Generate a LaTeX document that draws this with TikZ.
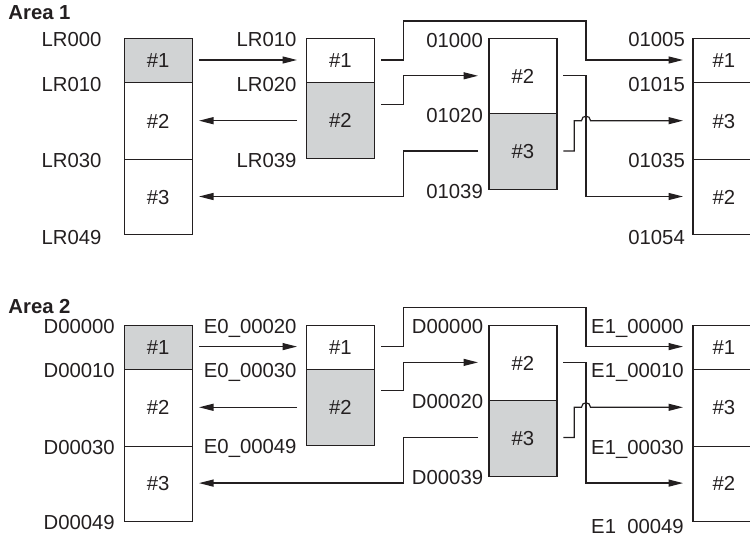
\documentclass[tikz,border=0pt]{standalone}
\usepackage{fontspec}
\setmainfont{Liberation Sans}
\usetikzlibrary{arrows.meta}
\definecolor{ink}{HTML}{231F20}
\definecolor{shade}{HTML}{D1D3D4}
\newcommand\wires[1]{%
  \coordinate (#1A1o) at (199,60);
  \coordinate (#1B1i) at (297,60);
  \coordinate (#1B2o) at (297,120.7);
  \coordinate (#1A2i) at (199,120.7);
  \coordinate (#1A3i) at (199,196.5);
  \coordinate (#1C2w) at (478,151);
  \coordinate (#1B1e) at (381,60);
  \coordinate (#1D1i) at (683,60);
  \coordinate (#1B2e) at (381,104.3);
  \coordinate (#1C1i) at (478,75.8);
  \coordinate (#1C1e) at (563.3,75.8);
  \coordinate (#1D3i) at (683,196.5);
  \coordinate (#1C2e) at (563.3,151);
  \coordinate (#1D2i) at (683,120.7);
  \draw[arr] (#1A1o) -- (#1B1i);
  \draw[arr] (#1B2o) -- (#1A2i);
  \draw[arr] (#1C2w) -- (403.3,151) -- (403.3,196.5) -- (#1A3i);
  \draw[arr] (#1B1e) -- (403.3,60) -- (403.3,21) -- (586,21) -- (586,60) -- (#1D1i);
  \draw[arr] (#1B2e) -- (403.3,104.3) -- (403.3,75.8) -- (#1C1i);
  \draw[arr] (#1C1e) -- (586,75.8) -- (586,196.5) -- (#1D3i);
  \draw[arr] (#1C2e) -- (574.3,151) -- (574.3,120.7) -- (581.5,120.7)
     .. controls (581.5,114.7) and (590.5,114.7) .. (590.5,120.7) -- (#1D2i);
}
\begin{document}
\begin{tikzpicture}[x=1pt,y=-1pt,
  every node/.style={font=\fontsize{20.3}{24}\selectfont, text=ink},
  seg/.style={draw=ink, line width=1.2pt, minimum width=68pt, inner sep=0pt, anchor=north west},
  segD/.style={seg, minimum width=62pt},
  lab/.style={anchor=base east, inner sep=0pt},
  ttl/.style={anchor=base west, inner sep=0pt, font=\fontsize{20.3}{24}\selectfont\bfseries},
  arr/.style={draw=ink, line width=1.2pt, -{Triangle[length=14.5pt,width=7pt]}}]
\useasboundingbox (0,0) rectangle (750,534);
\clip (0,0) rectangle (750,534);

% ---------------- Area 1 ----------------
\node[ttl] (t1) at (8.3,20) {Area 1};
\node[seg, fill=shade, minimum height=44.3pt] (A1) at (123.5,38) {\#1};
\node[seg, minimum height=76.7pt] (A2) at (123.5,82.3) {\#2};
\node[seg, minimum height=75.3pt] (A3) at (123.5,159) {\#3};
\node[seg, minimum height=44.3pt] (B1) at (305.7,38) {\#1};
\node[seg, fill=shade, minimum height=76pt] (B2) at (305.7,82.3) {\#2};
\node[seg, minimum height=75pt] (C1) at (488.3,38.3) {\#2};
\node[seg, fill=shade, minimum height=76pt] (C2) at (488.3,113.3) {\#3};
\node[segD, minimum height=44.3pt] (D1) at (692.3,38) {\#1};
\node[segD, minimum height=76.7pt] (D2) at (692.3,82.3) {\#3};
\node[segD, minimum height=75.3pt] (D3) at (692.3,159) {\#2};

\node[lab] (la1) at (101.7,47) {LR000};
\node[lab] (la2) at (101.7,91.3) {LR010};
\node[lab] (la3) at (101.7,168) {LR030};
\node[lab] (la4) at (101.7,244.5) {LR049};
\node[lab] (lb1) at (296.7,47) {LR010};
\node[lab] (lb2) at (296.7,91.3) {LR020};
\node[lab] (lb3) at (296.7,167.3) {LR039};
\node[lab] (lc1) at (483,47.3) {01000};
\node[lab] (lc2) at (483,122.3) {01020};
\node[lab] (lc3) at (483,198.3) {01039};
\node[lab] (ld1) at (685,47) {01005};
\node[lab] (ld2) at (685,91.3) {01015};
\node[lab] (ld3) at (685,168) {01035};
\node[lab] (ld4) at (685,244.5) {01054};

\wires{u}

% ---------------- Area 2 ----------------
\node[ttl] (t2) at (8.3,313.3) {Area 2};
\begin{scope}[shift={(0,286.6)}]
\node[seg, fill=shade, minimum height=44.3pt] (E1) at (123.5,38) {\#1};
\node[seg, minimum height=76.7pt] (E2) at (123.5,82.3) {\#2};
\node[seg, minimum height=75.3pt] (E3) at (123.5,159) {\#3};
\node[seg, minimum height=44.3pt] (F1) at (305.7,38) {\#1};
\node[seg, fill=shade, minimum height=76pt] (F2) at (305.7,82.3) {\#2};
\node[seg, minimum height=75pt] (G1) at (488.3,38.3) {\#2};
\node[seg, fill=shade, minimum height=76pt] (G2) at (488.3,113.3) {\#3};
\node[segD, minimum height=44.3pt] (H1) at (692.3,38) {\#1};
\node[segD, minimum height=76.7pt] (H2) at (692.3,82.3) {\#3};
\node[segD, minimum height=75.3pt] (H3) at (692.3,159) {\#2};

\node[lab] (le1) at (115,47) {D00000};
\node[lab] (le2) at (115,91.3) {D00010};
\node[lab] (le3) at (115,168) {D00030};
\node[lab] (le4) at (115,243) {D00049};
\node[lab] (lf1) at (296.7,47) {E0\_00020};
\node[lab] (lf2) at (296.7,91.3) {E0\_00030};
\node[lab] (lf3) at (296.7,167.3) {E0\_00049};
\node[lab] (lg1) at (483.3,47.3) {D00000};
\node[lab] (lg2) at (483.3,122.3) {D00020};
\node[lab] (lg3) at (483.3,198.3) {D00039};
\node[lab] (lh1) at (684,47) {E1\_00000};
\node[lab] (lh2) at (684,91.3) {E1\_00010};
\node[lab] (lh3) at (684,168) {E1\_00030};
\node[lab] (lh4) at (684,246.5) {E1\_00049};

\wires{v}
\end{scope}
\end{tikzpicture}
\end{document}
